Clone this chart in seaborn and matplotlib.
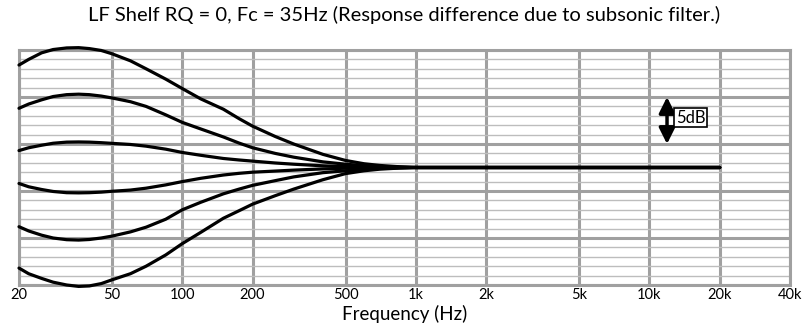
import numpy as np
import pandas as pd
import matplotlib
matplotlib.use("Agg")
import matplotlib.pyplot as plt
import seaborn as sns

# Frequencies (Hz) and responses (dB)
freqs = [20, 22, 25, 28, 32, 36, 40, 45, 50, 60, 70, 85, 100, 120, 150, 175,
         200, 250, 300, 400, 500, 600, 700, 850, 1000, 20000]
curve_p12 = [10.9, 11.5, 12.2, 12.55, 12.72, 12.75, 12.65, 12.45, 12.1, 11.35, 10.5, 9.4, 8.4, 7.3, 6.2, 5.2,
             4.4, 3.3, 2.5, 1.4, 0.75, 0.4, 0.22, 0.08, 0.0, 0.0]
curve_p8 = [6.3, 6.75, 7.2, 7.55, 7.75, 7.8, 7.75, 7.6, 7.4, 7.0, 6.5, 5.6, 4.8, 4.1, 3.25, 2.6,
            2.1, 1.5, 1.1, 0.6, 0.35, 0.2, 0.1, 0.04, 0.0, 0.0]
curve_p3 = [1.8, 2.1, 2.37, 2.58, 2.7, 2.72, 2.7, 2.64, 2.57, 2.45, 2.27, 1.95, 1.6, 1.3, 0.96, 0.8,
            0.68, 0.48, 0.35, 0.18, 0.1, 0.06, 0.03, 0.01, 0.0, 0.0]
curve_m3 = [-1.7, -2.05, -2.34, -2.55, -2.68, -2.7, -2.68, -2.62, -2.53, -2.4, -2.2, -1.85, -1.5, -1.15, -0.8, -0.62,
            -0.5, -0.38, -0.28, -0.15, -0.08, -0.05, -0.03, -0.01, 0.0, 0.0]
curve_m8 = [-6.3, -6.75, -7.2, -7.5, -7.68, -7.72, -7.66, -7.5, -7.3, -6.85, -6.35, -5.5, -4.5, -3.7, -2.8, -2.3,
            -1.9, -1.4, -1.0, -0.55, -0.35, -0.2, -0.1, -0.04, 0.0, 0.0]
curve_m12 = [-10.7, -11.3, -11.8, -12.2, -12.5, -12.65, -12.6, -12.35, -11.95, -11.3, -10.5, -9.3, -8.1, -6.9, -5.4, -4.6,
             -3.9, -3.0, -2.3, -1.3, -0.65, -0.35, -0.18, -0.06, 0.0, 0.0]

curve_names = ["+12", "+8", "+3", "-3", "-8", "-12"]
curves = [curve_p12, curve_p8, curve_p3, curve_m3, curve_m8, curve_m12]

tick_values = [20, 50, 100, 200, 500, 1000, 2000, 5000, 10000, 20000, 40000]
tick_labels = ["20", "50", "100", "200", "500", "1k", "2k", "5k", "10k", "20k", "40k"]

title = "LF Shelf RQ = 0, Fc = 35Hz (Response difference due to subsonic filter.)"
xlabel = "Frequency (Hz)"

scale_freq = 11900
scale_lo, scale_hi = 2.5, 7.5
scale_label = "5dB"

rows = []
for name, vals in zip(curve_names, curves):
    for f, v in zip(freqs, vals):
        rows.append({"freq": f, "gain": v, "curve": name})
df = pd.DataFrame(rows)

sns.set_style("white")
plt.rcParams["font.family"] = ["Lato", "DejaVu Sans"]
plt.rcParams["text.color"] = "black"
plt.rcParams["axes.labelcolor"] = "black"
plt.rcParams["xtick.color"] = "black"

fig = plt.figure(figsize=(8.08, 3.31), dpi=100)
ax = fig.add_axes([19 / 808, 1 - 285 / 331, (790 - 19) / 808, (285 - 50) / 331])

ax.set_xscale("log")
ax.set_xlim(20, 40000)
ax.set_ylim(-12.5, 12.5)

# grid
ax.set_xticks(tick_values)
ax.set_xticklabels(tick_labels)
ax.xaxis.set_minor_locator(matplotlib.ticker.NullLocator())
ax.set_yticks(np.arange(-12.5, 12.6, 5))
ax.set_yticks([v + 0.5 for v in range(-12, 12) if (v + 0.5 + 12.5) % 5 != 0], minor=True)
ax.set_yticklabels([])
ax.grid(which="major", axis="both", color="#a0a0a0", lw=2.2, zorder=0)
ax.grid(which="minor", axis="y", color="#bdbdbd", lw=1.0, zorder=0)
ax.set_axisbelow(True)
ax.tick_params(axis="both", which="both", length=0)
ax.tick_params(axis="x", labelsize=10.5, pad=2, labelcolor="black")
for s in ax.spines.values():
    s.set_color("#a0a0a0")
    s.set_linewidth(2.2)

sns.lineplot(data=df, x="freq", y="gain", units="curve", estimator=None,
             color="black", lw=2.3, ax=ax, legend=False, zorder=3, clip_on=False)

# scale arrow
ax.annotate("", xy=(scale_freq, scale_hi), xytext=(scale_freq, scale_lo),
            arrowprops=dict(arrowstyle="<|-|>", color="black", lw=2.5,
                            mutation_scale=24, shrinkA=0, shrinkB=0), zorder=4)
ax.text(scale_freq * 1.09, 5.3, scale_label, fontsize=12, ha="left", va="center",
        bbox=dict(boxstyle="square,pad=0.08", fc="white", ec="black", lw=1.2), zorder=5)

ax.set_xlabel(xlabel, fontsize=13.5, labelpad=2, color="black")
ax.set_ylabel("")
fig.text(0.5, 1 - 15 / 331, title, fontsize=14.5, ha="center", va="center", color="black")

fig.savefig("out.png", dpi=100)
